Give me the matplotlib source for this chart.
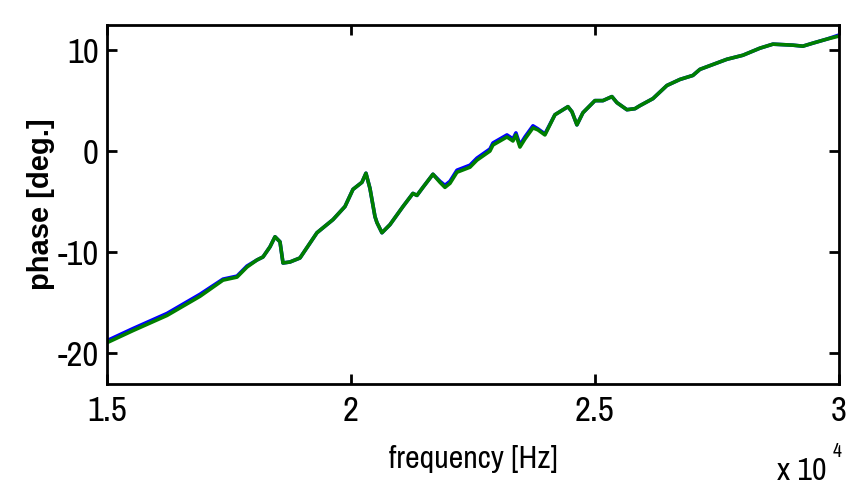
import matplotlib.pyplot as plt
from matplotlib import font_manager

# frequency points [Hz]
freq = [15000, 15533, 16230, 16906, 17377, 17664, 17869, 18074, 18197, 18340,
        18443, 18545, 18607, 18750, 18955, 19303, 19631, 19877, 20041, 20225,
        20307, 20389, 20492, 20533, 20635, 20799, 21066, 21270, 21352, 21475,
        21680, 21824, 21926, 22029, 22172, 22439, 22582, 22848, 22910, 23197,
        23320, 23381, 23463, 23566, 23730, 23832, 23975, 24180, 24447, 24529,
        24631, 24754, 25000, 25164, 25348, 25451, 25656, 25820, 25922, 26189,
        26475, 26742, 27008, 27152, 27705, 28033, 28381, 28648, 29057, 29262,
        29467, 29754, 30000]

# phase of the green trace [deg.]
phase_green = [-19.0, -17.8, -16.3, -14.4, -12.8, -12.5, -11.5, -10.8, -10.5, -9.5,
               -8.5, -9.0, -11.1, -11.0, -10.6, -8.1, -6.8, -5.5, -3.8, -3.1,
               -2.2, -3.7, -6.5, -7.1, -8.1, -7.3, -5.5, -4.2, -4.4, -3.6,
               -2.3, -3.1, -3.6, -3.2, -2.1, -1.6, -0.9, 0.0, 0.6, 1.4,
               1.0, 1.6, 0.4, 1.2, 2.3, 2.1, 1.6, 3.6, 4.4, 3.9,
               2.6, 3.8, 5.0, 5.0, 5.4, 4.8, 4.1, 4.2, 4.5, 5.2,
               6.5, 7.1, 7.5, 8.1, 9.1, 9.5, 10.2, 10.6, 10.5, 10.4,
               10.7, 11.1, 11.4]

# phase of the blue trace [deg.] (mostly hidden under the green one)
phase_blue = [-18.8, -17.6, -16.1, -14.2, -12.7, -12.4, -11.4, -10.8, -10.5, -9.5,
              -8.5, -9.0, -11.1, -11.0, -10.6, -8.1, -6.8, -5.5, -3.8, -3.1,
              -2.2, -3.7, -6.5, -7.1, -8.1, -7.3, -5.5, -4.2, -4.4, -3.6,
              -2.3, -3.0, -3.4, -3.0, -1.9, -1.4, -0.7, 0.2, 0.8, 1.6,
              1.2, 1.8, 0.6, 1.4, 2.5, 2.2, 1.7, 3.6, 4.4, 3.9,
              2.6, 3.8, 5.0, 5.0, 5.4, 4.8, 4.1, 4.2, 4.5, 5.2,
              6.5, 7.1, 7.5, 8.1, 9.1, 9.5, 10.2, 10.6, 10.5, 10.4,
              10.7, 11.1, 11.5]

xticks = [15000, 20000, 25000, 30000]
xticklabels = ['1.5', '2', '2.5', '3']
yticks = [-20, -10, 0, 10]

# pick a narrow sans font if one is installed
installed = set(f.name for f in font_manager.fontManager.ttflist)
narrow = 'Liberation Sans'
for name in ['Liberation Sans Narrow', 'Arial Narrow', 'Archivo Narrow',
             'PT Sans Narrow', 'Roboto Condensed', 'Open Sans Condensed']:
    if name in installed:
        narrow = name
        break

fig = plt.figure(figsize=(8.61, 4.9), dpi=100)
ax = fig.add_axes([0.1243, 0.2163, 0.850, 0.7327])

ax.plot(freq, phase_blue, color='#0000ff', lw=2.6)
ax.plot(freq, phase_green, color='#007f00', lw=2.6)

ax.set_xlim(15000, 30000)
ax.set_ylim(-23.1, 12.5)
ax.set_xticks(xticks)
ax.set_xticklabels(xticklabels, family=narrow, fontsize=25)
ax.set_yticks(yticks)
ax.set_yticklabels([str(v) for v in yticks], family=narrow, fontsize=25)

ax.tick_params(direction='in', length=7, width=2, top=True, right=True, pad=6)
ax.tick_params(axis='x', pad=8)
for s in ax.spines.values():
    s.set_linewidth(2)

ax.set_xlabel('frequency [Hz]', family=narrow, fontsize=23, labelpad=13)
ax.set_ylabel('phase [deg.]', family='Liberation Sans', fontweight='bold',
              fontsize=21, labelpad=2)

fig.text(0.902, 0.02, 'x 10', family=narrow, fontsize=23)
fig.text(0.967, 0.068, '4', family=narrow, fontsize=14)

fig.savefig('out.png')
